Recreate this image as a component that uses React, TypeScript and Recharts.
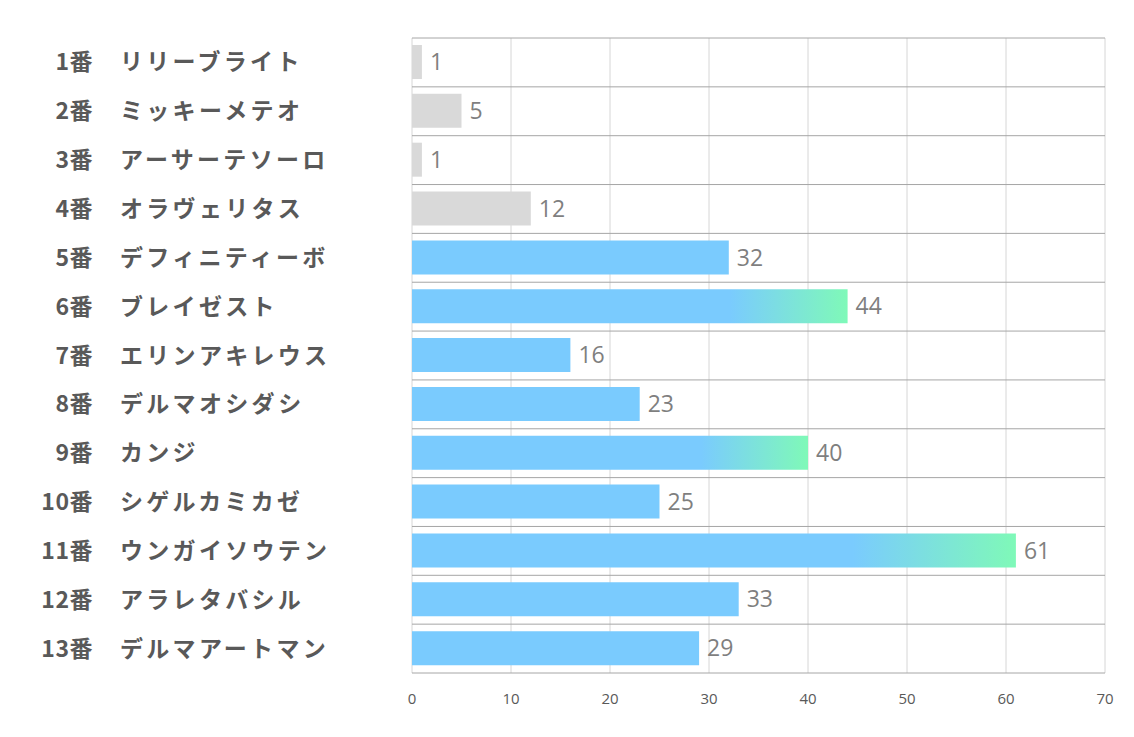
import React from "react";
import { BarChart, Bar, XAxis, YAxis, CartesianGrid, Cell, LabelList } from "recharts";

const numbers = ["1番", "2番", "3番", "4番", "5番", "6番", "7番", "8番", "9番", "10番", "11番", "12番", "13番"];
const names = [
  "リリーブライト",
  "ミッキーメテオ",
  "アーサーテソーロ",
  "オラヴェリタス",
  "デフィニティーボ",
  "ブレイゼスト",
  "エリンアキレウス",
  "デルマオシダシ",
  "カンジ",
  "シゲルカミカゼ",
  "ウンガイソウテン",
  "アラレタバシル",
  "デルマアートマン",
];
const values = [1, 5, 1, 12, 32, 44, 16, 23, 40, 25, 61, 33, 29];
const grayed = [true, true, true, true, false, false, false, false, false, false, false, false, false];
const xTicks = [0, 10, 20, 30, 40, 50, 60, 70];

const data = names.map((n, i) => ({ key: numbers[i], num: numbers[i], name: n, value: values[i] }));
const top3 = [...values].sort((a, b) => b - a).slice(0, 3);

const LABEL_COLOR = "#595959";
const FONT = "'Noto Sans CJK JP', 'Noto Sans', sans-serif";

const CategoryTick = (props: any) => {
  const { y, payload, index } = props;
  const i = typeof index === "number" ? index : numbers.indexOf(payload.value);
  return (
    <g>
      <text x={93} y={y} dy={8} textAnchor="end" fontSize={23} fontWeight={700} fill={LABEL_COLOR} fontFamily={FONT} letterSpacing={0.5}>
        {numbers[i]}
      </text>
      <text x={120} y={y} dy={8} textAnchor="start" fontSize={23} fontWeight={700} fill={LABEL_COLOR} fontFamily={FONT} letterSpacing={3.3}>
        {names[i]}
      </text>
    </g>
  );
};

const rowLines = (p: any) => {
  const { offset } = p;
  const n = names.length;
  const out: number[] = [];
  for (let i = 0; i <= n; i++) out.push(offset.top + (offset.height * i) / n);
  return out;
};

export default function App() {
  return (
    <div style={{ position: "absolute", left: 0, top: 0, background: "#fff" }}>
      <BarChart
        width={1134}
        height={737}
        data={data}
        layout="vertical"
        margin={{ top: 38, right: 29, bottom: 34, left: 0 }}
      >
        <defs>
          <linearGradient id="hl" x1="0" y1="0" x2="1" y2="0">
            <stop offset="0" stopColor="#7ACBFE" />
            <stop offset="0.73" stopColor="#7ACBFE" />
            <stop offset="1" stopColor="#7FF9B8" />
          </linearGradient>
        </defs>
        <CartesianGrid horizontal={false} vertical={true} stroke="#d6d6d6" />
        <CartesianGrid horizontal={true} vertical={false} stroke="#a6a6a6" horizontalCoordinatesGenerator={rowLines} />
        <XAxis
          type="number"
          domain={[0, 70]}
          ticks={xTicks}
          axisLine={false}
          tickLine={false}
          tickMargin={14}
          height={30}
          tick={{ fontSize: 15, fill: LABEL_COLOR, fontFamily: "'Open Sans', sans-serif" }}
        />
        <YAxis
          type="category"
          dataKey="key"
          width={412}
          axisLine={false}
          tickLine={false}
          interval={0}
          tick={<CategoryTick />}
        />
        <Bar dataKey="value" barSize={34} isAnimationActive={false}>
          {data.map((d, i) => (
            <Cell
              key={i}
              fill={grayed[i] ? "#D9D9D9" : top3.includes(d.value) ? "url(#hl)" : "#7ACBFE"}
            />
          ))}
          <LabelList
            dataKey="value"
            position="right"
            offset={8}
            fill="#7f7f7f"
            fontSize={23}
            fontFamily="'Open Sans', sans-serif"
          />
        </Bar>
      </BarChart>
    </div>
  );
}
